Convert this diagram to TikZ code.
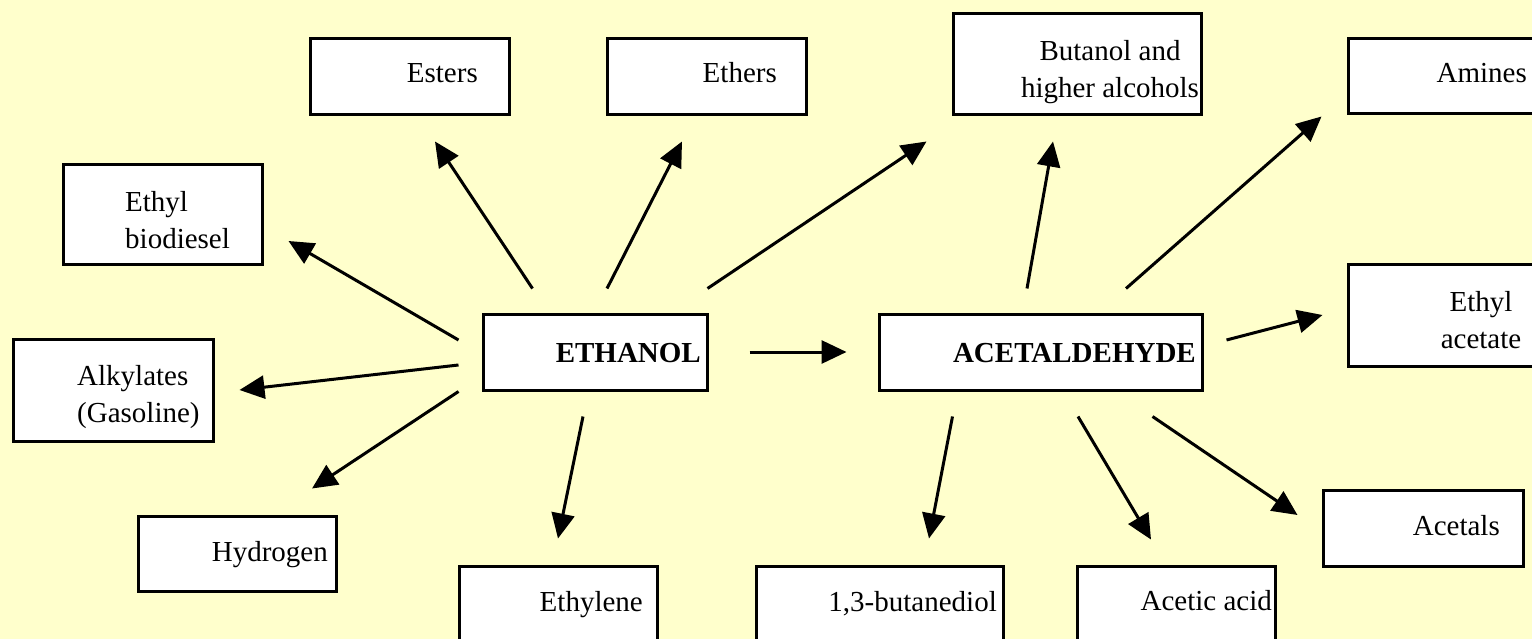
\documentclass[tikz,border=0pt]{standalone}
\usepackage{fontspec}
\setmainfont{Liberation Serif}
\usetikzlibrary{arrows.meta}
\definecolor{paper}{HTML}{FFFFCC}
\begin{document}
\begin{tikzpicture}[x=1pt, y=-1pt, font=\fontsize{29}{37}\selectfont,
	box/.style={draw, fill=white, line width=3pt, inner sep=0pt},
	txt/.style={inner sep=0pt},
	arr/.style={line width=3pt, -{Triangle[length=25pt, width=23pt]}}]
		\useasboundingbox (0,0) rectangle (1532,639);
		\clip (0,0) rectangle (1532,639);
		\fill[paper] (0,0) rectangle (1532,639);
		% boxes
		\node[box, minimum width=199pt, minimum height=76pt] (esters) at (409.5,77) {};
		\node[box, minimum width=199pt, minimum height=76pt] (ethers) at (706.5,77) {};
		\node[box, minimum width=248pt, minimum height=101pt] (butanol) at (1077,64.5) {};
		\node[box, minimum width=200pt, minimum height=75pt] (amines) at (1448,76.5) {};
		\node[box, minimum width=199pt, minimum height=100pt] (biodiesel) at (162.5,215) {};
		\node[box, minimum width=200pt, minimum height=102pt] (alkylates) at (113,390) {};
		\node[box, minimum width=198pt, minimum height=75pt] (hydrogen) at (237,553.5) {};
		\node[box, minimum width=224pt, minimum height=76pt] (ethanol) at (595,352) {};
		\node[box, minimum width=323pt, minimum height=76pt] (acetaldehyde) at (1040.5,352) {};
		\node[box, minimum width=200pt, minimum height=101pt] (ethylacetate) at (1448,315.5) {};
		\node[box, minimum width=200pt, minimum height=76pt] (acetals) at (1423,528) {};
		\node[box, minimum width=198pt, minimum height=76pt] (ethylene) at (558,604) {};
		\node[box, minimum width=247pt, minimum height=76pt] (butanediol) at (879.5,604) {};
		\node[box, minimum width=198pt, minimum height=76pt] (aceticacid) at (1176,604) {};
		% texts
		\node[txt, anchor=base east] (t-esters) at (478,83) {Esters};
		\node[txt, anchor=base east] (t-ethers) at (777,83) {Ethers};
		\node[txt, align=center] (t-butanol) at (1110,71.75) {Butanol and\\higher alcohols};
		\node[txt, anchor=base east] (t-amines) at (1527,83) {Amines};
		\node[txt, anchor=west, align=left] (t-biodiesel) at (125,219.7) {Ethyl\\biodiesel};
		\node[txt, anchor=west, align=left] (t-alkylates) at (77,397.2) {Alkylates\\(Gasoline)};
		\node[txt, anchor=base east] (t-hydrogen) at (328,561) {Hydrogen};
		\node[txt, anchor=base east, font=\fontsize{29}{37}\selectfont\bfseries] (t-ethanol) at (701,362) {ETHANOL};
		\node[txt, anchor=base east, font=\fontsize{29}{37}\selectfont\bfseries] (t-acetaldehyde) at (1196,362) {ACETALDEHYDE};
		\node[txt, align=center] (t-ethylacetate) at (1481,320.1) {Ethyl\\acetate};
		\node[txt, anchor=base east] (t-acetals) at (1500,535) {Acetals};
		\node[txt, anchor=base east] (t-ethylene) at (643,611) {Ethylene};
		\node[txt, anchor=base east] (t-butanediol) at (997,611) {1,3-butanediol};
		\node[txt, anchor=base east] (t-aceticacid) at (1272,610) {Acetic acid};
		% arrows from ethanol
		\draw[arr] ([shift={(51,-24)}]ethanol.north west) -- ([shift={(25.5,25)}]esters.south);
		\draw[arr] ([shift={(12,-24)}]ethanol.north) -- ([shift={(-24.5,25)}]ethers.south);
		\draw[arr] ([shift={(-1,-24)}]ethanol.north east) -- ([shift={(-25,25)}]butanol.south west);
		\draw[arr] ([shift={(-23,-12)}]ethanol.west) -- ([shift={(25,26)}]biodiesel.east);
		\draw[arr] ([shift={(-23,13)}]ethanol.west) -- ([shift={(25,0)}]alkylates.east);
		\draw[arr] ([shift={(-23,0)}]ethanol.south west) -- ([shift={(75,-26)}]hydrogen.north);
		\draw[arr] ([shift={(-12,25)}]ethanol.south) -- ([shift={(0,-26)}]ethylene.north);
		\draw[arr] ([shift={(41,0)}]ethanol.east) -- ([shift={(-31,0)}]acetaldehyde.west);
		% arrows from acetaldehyde
		\draw[arr] ([shift={(-13.5,-24)}]acetaldehyde.north) -- ([shift={(-24,25)}]butanol.south);
		\draw[arr] ([shift={(85.5,-24)}]acetaldehyde.north) -- ([shift={(-25,1)}]amines.south west);
		\draw[arr] ([shift={(23,-12)}]acetaldehyde.east) -- ([shift={(-24,-0.5)}]ethylacetate.west);
		\draw[arr] ([shift={(75,25)}]acetaldehyde.south west) -- ([shift={(49.5,-26)}]butanediol.north);
		\draw[arr] ([shift={(37.5,25)}]acetaldehyde.south) -- ([shift={(-25,-25)}]aceticacid.north);
		\draw[arr] ([shift={(-51,25)}]acetaldehyde.south east) -- ([shift={(-24,-13)}]acetals.west);
\end{tikzpicture}
\end{document}
